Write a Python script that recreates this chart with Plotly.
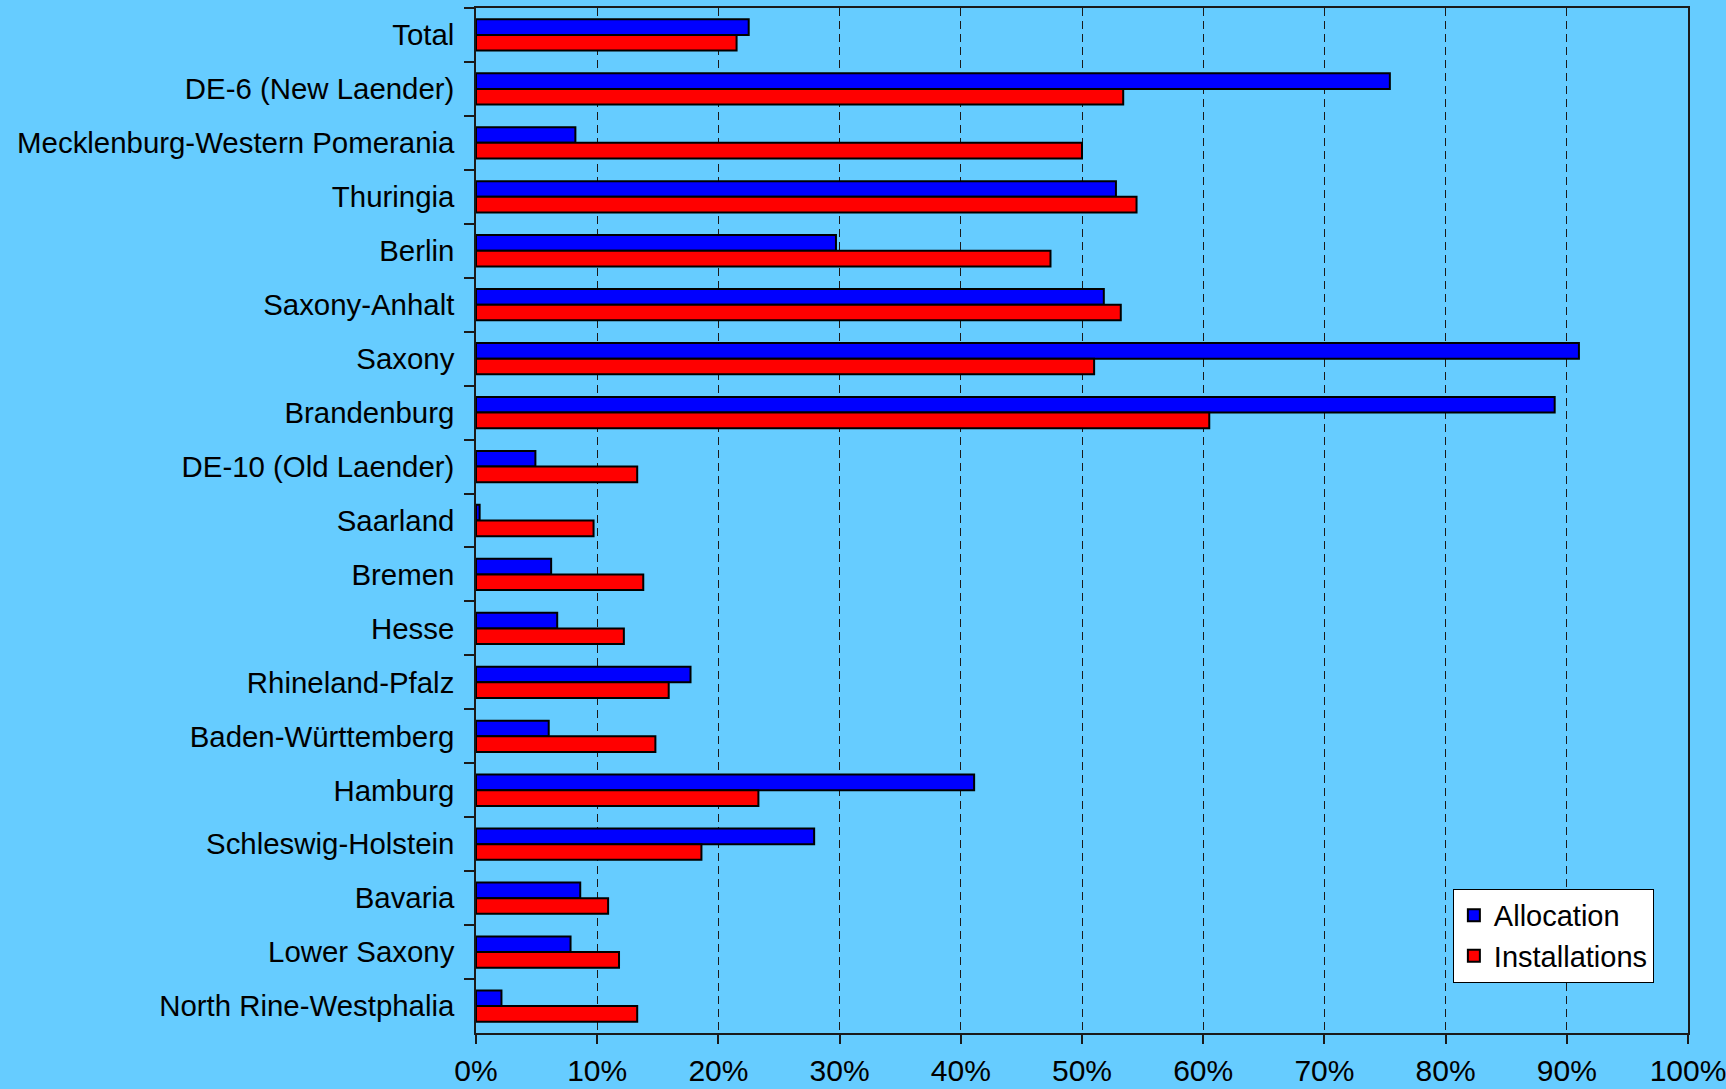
import plotly.graph_objects as go

categories = [
    "Total", "DE-6 (New Laender)", "Mecklenburg-Western Pomerania", "Thuringia",
    "Berlin", "Saxony-Anhalt", "Saxony", "Brandenburg", "DE-10 (Old Laender)",
    "Saarland", "Bremen", "Hesse", "Rhineland-Pfalz", "Baden-Württemberg",
    "Hamburg", "Schleswig-Holstein", "Bavaria", "Lower Saxony",
    "North Rine-Westphalia",
]
allocation = [22.5, 75.4, 8.2, 52.8, 29.7, 51.8, 91.0, 89.0, 4.9,
              0.3, 6.2, 6.7, 17.7, 6.0, 41.1, 27.9, 8.6, 7.8, 2.1]
installations = [21.5, 53.4, 50.0, 54.5, 47.4, 53.2, 51.0, 60.5, 13.3,
                 9.7, 13.8, 12.2, 15.9, 14.8, 23.3, 18.6, 10.9, 11.8, 13.3]
x_ticks = [0, 10, 20, 30, 40, 50, 60, 70, 80, 90, 100]
x_tick_labels = [f"{v}%" for v in x_ticks]

FONT = "Liberation Sans, Arial, sans-serif"
BG = "#66CCFF"
AX = "#1a1a1a"

fig = go.Figure()
fig.add_trace(go.Bar(
    y=categories, x=allocation, name="Allocation", orientation="h",
    marker=dict(color="#0000FF", line=dict(color="black", width=2)),
))
fig.add_trace(go.Bar(
    y=categories, x=installations, name="Installations", orientation="h",
    marker=dict(color="#FF0000", line=dict(color="black", width=2)),
))

fig.update_layout(
    width=1726, height=1089,
    margin=dict(l=476, r=38, t=8, b=56, autoexpand=False),
    paper_bgcolor=BG, plot_bgcolor=BG,
    barmode="group", bargap=0.42, bargroupgap=0,
    font=dict(family=FONT, color="black"),
    showlegend=True,
    legend=dict(
        x=0.806, y=0.049, xanchor="left", yanchor="bottom",
        bgcolor="white", bordercolor="black", borderwidth=1,
        font=dict(size=29, family=FONT, color="black"),
        traceorder="normal", tracegroupgap=0, itemwidth=30,
    ),
)
fig.update_xaxes(
    range=[0, 100], tickvals=x_ticks, ticktext=x_tick_labels,
    showgrid=True, gridcolor=AX, gridwidth=1, griddash="8px,5px",
    zeroline=False,
    showline=True, linecolor=AX, linewidth=1.5, mirror=True,
    ticks="outside", ticklen=9, tickcolor=AX, tickwidth=1.5,
    tickfont=dict(size=30, family=FONT, color="black"),
    ticklabelstandoff=1, ticklabeloverflow="allow",
    automargin=False,
    fixedrange=True,
)
fig.update_yaxes(
    categoryorder="array", categoryarray=categories, autorange="reversed",
    showgrid=False, zeroline=False,
    showline=True, linecolor=AX, linewidth=1.5, mirror=True,
    ticks="outside", ticklen=10, tickcolor=AX, tickwidth=1.5,
    tickson="boundaries",
    tickfont=dict(size=29.4, family=FONT, color="black"),
    ticklabelstandoff=14, automargin=False,
    fixedrange=True,
)

fig.write_html(
    "out.html",
    config={"displayModeBar": False},
    post_script="document.body.style.margin='0';document.body.style.background='#66CCFF';",
)
